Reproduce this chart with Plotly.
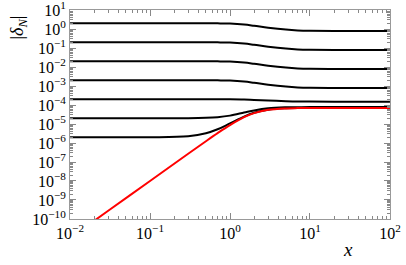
import plotly.graph_objects as go

# x sample nodes
x_nodes = [0.01, 0.03, 0.1, 0.3, 0.5, 0.7, 1, 1.5, 2, 3, 5, 7, 10, 20, 100]

# black curves, |delta_N| for various initial values
line_1 = [2.0, 2.0, 2.0, 2.0, 1.995, 1.98, 1.93, 1.72, 1.48, 1.17, 0.93, 0.845, 0.81, 0.796, 0.796]
line_2 = [0.2, 0.2, 0.2, 0.2, 0.1995, 0.198, 0.193, 0.172, 0.148, 0.117, 0.093, 0.0845, 0.081, 0.0796, 0.0796]
line_3 = [0.02, 0.02, 0.02, 0.02, 0.01995, 0.0198, 0.0193, 0.0172, 0.0148, 0.0117, 0.0093, 0.00845, 0.0081, 0.00796, 0.00796]
line_4 = [2e-3, 2e-3, 2e-3, 2e-3, 1.995e-3, 1.98e-3, 1.93e-3, 1.72e-3, 1.48e-3, 1.17e-3, 0.93e-3, 0.845e-3, 0.81e-3, 0.796e-3, 0.796e-3]
line_5 = [2e-4, 2e-4, 2e-4, 2.003e-4, 2.002e-4, 1.997e-4, 2.0e-4, 1.95e-4, 1.85e-4, 1.73e-4, 1.59e-4, 1.53e-4, 1.51e-4, 1.50e-4, 1.50e-4]
line_6 = [2e-5, 2e-5, 2.001e-5, 2.027e-5, 2.12e-5, 2.29e-5, 2.76e-5, 4.0e-5, 5.2e-5, 6.73e-5, 7.56e-5, 7.70e-5, 7.76e-5, 7.80e-5, 7.80e-5]
line_7 = [2e-6, 2e-6, 2.01e-6, 2.27e-6, 3.23e-6, 5.26e-6, 1.07e-5, 2.45e-5, 3.88e-5, 5.68e-5, 6.72e-5, 6.94e-5, 7.03e-5, 7.08e-5, 7.08e-5]
black_series = [line_1, line_2, line_3, line_4, line_5, line_6, line_7]

# red curve
red_line = [1e-11, 2.7e-10, 1e-8, 2.7e-7, 1.24e-6, 3.3e-6, 8.75e-6, 2.28e-5, 3.73e-5, 5.56e-5, 6.63e-5, 6.86e-5, 6.95e-5, 7e-5, 7e-5]

x_tickvals = [0.01, 0.1, 1, 10, 100]
x_ticktext = ["10<sup>−2</sup>", "10<sup>−1</sup>", "10<sup>0</sup>", "10<sup>1</sup>", "10<sup>2</sup>"]
y_exps = list(range(-10, 2))
y_tickvals = [10.0 ** e for e in y_exps]
y_ticktext = [f"10<sup>{str(e).replace('-', '−')}</sup>" for e in y_exps]

fig = go.Figure()
for ys in black_series:
    fig.add_trace(go.Scatter(x=x_nodes, y=ys, mode="lines",
                             line=dict(color="black", width=2, shape="spline", smoothing=1.0),
                             showlegend=False, hoverinfo="skip", cliponaxis=True))
fig.add_trace(go.Scatter(x=x_nodes, y=red_line, mode="lines",
                         line=dict(color="#ff0000", width=2, shape="spline", smoothing=1.0),
                         showlegend=False, hoverinfo="skip", cliponaxis=True))

minor_x = [m * 10.0 ** e for e in range(-2, 2) for m in range(2, 10)]
minor_y = [m * 10.0 ** e for e in range(-10, 1) for m in range(2, 10)]

serif = "'Liberation Serif', 'Times New Roman', serif"
font = dict(family=serif, size=16, color="black")
axis_common = dict(showgrid=False, zeroline=False, showline=True, linecolor="#999999",
                   linewidth=1, mirror="ticks", ticks="inside", ticklen=6,
                   tickcolor="#888888", tickwidth=1, tickfont=font, tickmode="array",
                   automargin=False, ticklabeloverflow="allow")

fig.update_xaxes(type="log", range=[-2.0005, 2.0005], tickvals=x_tickvals, ticktext=x_ticktext,
                 minor=dict(tickmode="array", tickvals=minor_x, ticks="inside", ticklen=3,
                            tickcolor="#888888", tickwidth=1, showgrid=False),
                 **axis_common)
fig.update_yaxes(type="log", range=[-10.0005, 1.0005], tickvals=y_tickvals, ticktext=y_ticktext,
                 minor=dict(tickmode="array", tickvals=minor_y, ticks="inside", ticklen=3,
                            tickcolor="#888888", tickwidth=1, showgrid=False),
                 **axis_common)

fig.update_layout(width=406, height=265, margin=dict(l=70, r=16, t=10, b=46),
                  paper_bgcolor="white", plot_bgcolor="white", font=font,
                  annotations=[
                      dict(text="<i>x</i>", xref="paper", yref="paper", x=0.87, y=-0.148,
                           xanchor="center", yanchor="middle", showarrow=False,
                           font=dict(family=serif, size=19, color="black")),
                      dict(text="|<i>δ</i><sub><i>N</i></sub>|", xref="paper", yref="paper",
                           x=-0.16, y=0.915, xanchor="center", yanchor="middle", showarrow=False,
                           textangle=-90,
                           font=dict(family=serif, size=18, color="black")),
                  ])

fig.write_html("out.html", config={"displayModeBar": False},
               post_script="document.body.style.margin='0';document.body.style.overflow='hidden';")
